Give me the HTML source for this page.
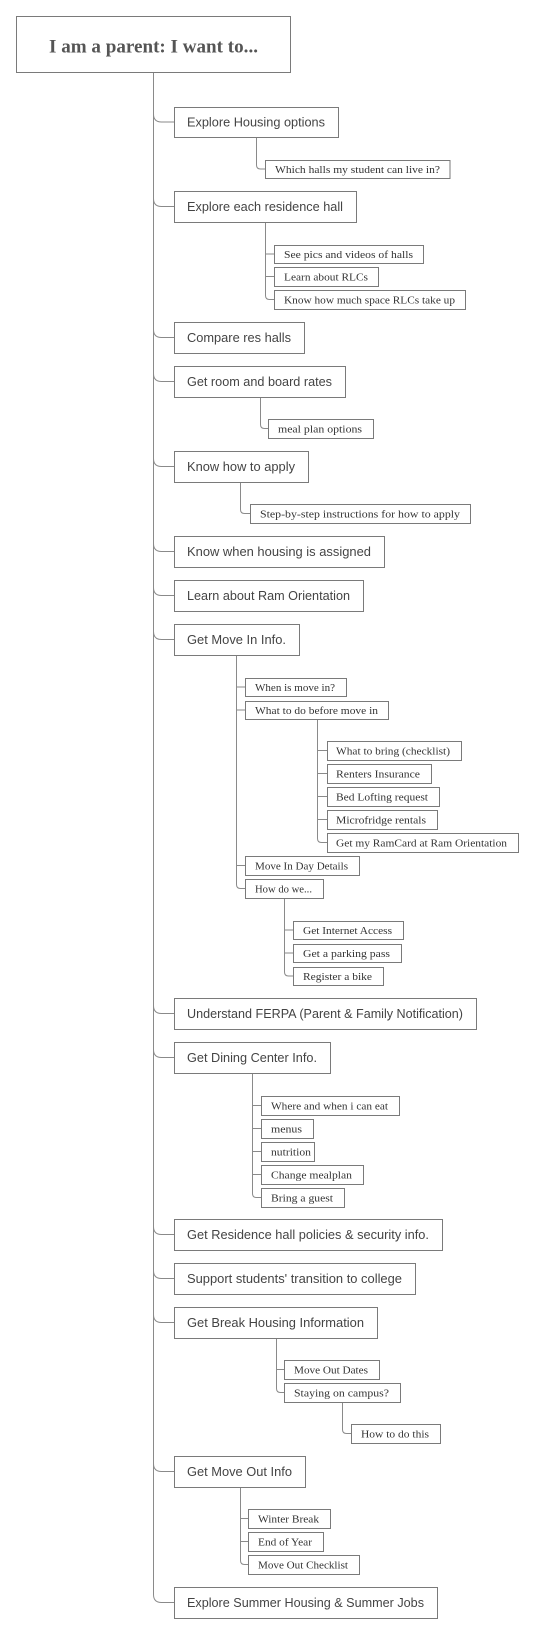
<!DOCTYPE html>
<html><head><meta charset="utf-8"><style>
html,body{margin:0;padding:0;background:#fff;}
svg{display:block;}
.b{fill:#fff;stroke:#7a7a7a;stroke-width:1;}
.l{fill:none;stroke:#8a8a8a;stroke-width:1;}
.t1{font-family:"Liberation Sans",sans-serif;font-size:13px;fill:#444;}
.t2{font-family:"Liberation Serif",serif;font-size:10.5px;fill:#333;}
.r{font-family:"Liberation Serif",serif;font-size:19px;font-weight:bold;fill:#555;}
</style></head><body>
<svg width="535" height="1635" viewBox="0 0 535 1635" xmlns="http://www.w3.org/2000/svg">
<path class="l" d="M153.5,72 V1594.5 Q153.5,1602.5 161.5,1602.5 H174"/>
<g class="l">
<path d="M153.5,114 Q153.5,122 161.5,122 H174"/>
<path d="M153.5,198.5 Q153.5,206.5 161.5,206.5 H174"/>
<path d="M153.5,329.5 Q153.5,337.5 161.5,337.5 H174"/>
<path d="M153.5,373.5 Q153.5,381.5 161.5,381.5 H174"/>
<path d="M153.5,458.5 Q153.5,466.5 161.5,466.5 H174"/>
<path d="M153.5,543.5 Q153.5,551.5 161.5,551.5 H174"/>
<path d="M153.5,587.5 Q153.5,595.5 161.5,595.5 H174"/>
<path d="M153.5,631.5 Q153.5,639.5 161.5,639.5 H174"/>
<path d="M153.5,1005.5 Q153.5,1013.5 161.5,1013.5 H174"/>
<path d="M153.5,1049.5 Q153.5,1057.5 161.5,1057.5 H174"/>
<path d="M153.5,1226.5 Q153.5,1234.5 161.5,1234.5 H174"/>
<path d="M153.5,1270.5 Q153.5,1278.5 161.5,1278.5 H174"/>
<path d="M153.5,1314.5 Q153.5,1322.5 161.5,1322.5 H174"/>
<path d="M153.5,1463.5 Q153.5,1471.5 161.5,1471.5 H174"/>
<path d="M256.5,137 V165 Q256.5,169 260.5,169 H265.5"/>
<path d="M265.5,222 V295.5 Q265.5,299.5 269.5,299.5 H274 M265.5,254 H274 M265.5,276.5 H274"/>
<path d="M260.5,397 V424.5 Q260.5,428.5 264.5,428.5 H268"/>
<path d="M240.5,482 V509.5 Q240.5,513.5 244.5,513.5 H250"/>
<path d="M236.5,655 V884.5 Q236.5,888.5 240.5,888.5 H245 M236.5,687 H245 M236.5,710 H245 M236.5,865.5 H245"/>
<path d="M317.5,719 V838.5 Q317.5,842.5 321.5,842.5 H327 M317.5,750.5 H327 M317.5,773.5 H327 M317.5,796.5 H327 M317.5,819.5 H327"/>
<path d="M284.5,898 V972 Q284.5,976 288.5,976 H293 M284.5,930 H293 M284.5,953 H293"/>
<path d="M252.5,1073 V1193.5 Q252.5,1197.5 256.5,1197.5 H261 M252.5,1105.5 H261 M252.5,1128.5 H261 M252.5,1151.5 H261 M252.5,1174.5 H261"/>
<path d="M276.5,1338 V1388.5 Q276.5,1392.5 280.5,1392.5 H284 M276.5,1369.5 H284"/>
<path d="M342.5,1402 V1429.5 Q342.5,1433.5 346.5,1433.5 H351"/>
<path d="M240.5,1487 V1560.5 Q240.5,1564.5 244.5,1564.5 H248 M240.5,1518.5 H248 M240.5,1541.5 H248"/>
</g>
<rect class="b" x="16.5" y="16.5" width="274" height="56"/>
<text class="r" x="153.5" y="52.5" text-anchor="middle" textLength="209" lengthAdjust="spacingAndGlyphs">I am a parent: I want to...</text>
<g>
<rect class="b" x="174.5" y="107.5" width="164" height="30"/><text class="t1" x="187" y="126.5" textLength="138" lengthAdjust="spacingAndGlyphs">Explore Housing options</text>
<rect class="b" x="174.5" y="191.5" width="182" height="31"/><text class="t1" x="187" y="211" textLength="156" lengthAdjust="spacingAndGlyphs">Explore each residence hall</text>
<rect class="b" x="174.5" y="322.5" width="130" height="31"/><text class="t1" x="187" y="342" textLength="104" lengthAdjust="spacingAndGlyphs">Compare res halls</text>
<rect class="b" x="174.5" y="366.5" width="171" height="31"/><text class="t1" x="187" y="386" textLength="145" lengthAdjust="spacingAndGlyphs">Get room and board rates</text>
<rect class="b" x="174.5" y="451.5" width="134" height="31"/><text class="t1" x="187" y="471" textLength="108" lengthAdjust="spacingAndGlyphs">Know how to apply</text>
<rect class="b" x="174.5" y="536.5" width="210" height="31"/><text class="t1" x="187" y="556" textLength="184" lengthAdjust="spacingAndGlyphs">Know when housing is assigned</text>
<rect class="b" x="174.5" y="580.5" width="189" height="31"/><text class="t1" x="187" y="600" textLength="163" lengthAdjust="spacingAndGlyphs">Learn about Ram Orientation</text>
<rect class="b" x="174.5" y="624.5" width="125" height="31"/><text class="t1" x="187" y="644" textLength="99" lengthAdjust="spacingAndGlyphs">Get Move In Info.</text>
<rect class="b" x="174.5" y="998.5" width="302" height="31"/><text class="t1" x="187" y="1018" textLength="276" lengthAdjust="spacingAndGlyphs">Understand FERPA (Parent &amp; Family Notification)</text>
<rect class="b" x="174.5" y="1042.5" width="156" height="31"/><text class="t1" x="187" y="1062" textLength="130" lengthAdjust="spacingAndGlyphs">Get Dining Center Info.</text>
<rect class="b" x="174.5" y="1219.5" width="268" height="31"/><text class="t1" x="187" y="1239" textLength="242" lengthAdjust="spacingAndGlyphs">Get Residence hall policies &amp; security info.</text>
<rect class="b" x="174.5" y="1263.5" width="241" height="31"/><text class="t1" x="187" y="1283" textLength="215" lengthAdjust="spacingAndGlyphs">Support students' transition to college</text>
<rect class="b" x="174.5" y="1307.5" width="203" height="31"/><text class="t1" x="187" y="1327" textLength="177" lengthAdjust="spacingAndGlyphs">Get Break Housing Information</text>
<rect class="b" x="174.5" y="1456.5" width="131" height="31"/><text class="t1" x="187" y="1476" textLength="105" lengthAdjust="spacingAndGlyphs">Get Move Out Info</text>
<rect class="b" x="174.5" y="1587.5" width="263" height="31"/><text class="t1" x="187" y="1607" textLength="237" lengthAdjust="spacingAndGlyphs">Explore Summer Housing &amp; Summer Jobs</text>
</g>
<g>
<rect class="b" x="265.5" y="160.5" width="184.5" height="18"/><text class="t2" x="275" y="173" textLength="165" lengthAdjust="spacingAndGlyphs">Which halls my student can live in?</text>
<rect class="b" x="274.5" y="245.5" width="149" height="18"/><text class="t2" x="284" y="258" textLength="129" lengthAdjust="spacingAndGlyphs">See pics and videos of halls</text>
<rect class="b" x="274.5" y="267.5" width="104" height="19"/><text class="t2" x="284" y="280.5" textLength="84" lengthAdjust="spacingAndGlyphs">Learn about RLCs</text>
<rect class="b" x="274.5" y="290.5" width="191" height="19"/><text class="t2" x="284" y="303.5" textLength="171" lengthAdjust="spacingAndGlyphs">Know how much space RLCs take up</text>
<rect class="b" x="268.5" y="419.5" width="105" height="19"/><text class="t2" x="278" y="432.5" textLength="84" lengthAdjust="spacingAndGlyphs">meal plan options</text>
<rect class="b" x="250.5" y="504.5" width="220" height="19"/><text class="t2" x="260" y="517.5" textLength="200" lengthAdjust="spacingAndGlyphs">Step-by-step instructions for how to apply</text>
<rect class="b" x="245.5" y="678.5" width="101" height="18"/><text class="t2" x="255" y="691" textLength="80" lengthAdjust="spacingAndGlyphs">When is move in?</text>
<rect class="b" x="245.5" y="701.5" width="143" height="18"/><text class="t2" x="255" y="714" textLength="123" lengthAdjust="spacingAndGlyphs">What to do before move in</text>
<rect class="b" x="327.5" y="741.5" width="134" height="19"/><text class="t2" x="336" y="754.5" textLength="114" lengthAdjust="spacingAndGlyphs">What to bring (checklist)</text>
<rect class="b" x="327.5" y="764.5" width="104" height="19"/><text class="t2" x="336" y="777.5" textLength="84" lengthAdjust="spacingAndGlyphs">Renters Insurance</text>
<rect class="b" x="327.5" y="787.5" width="112" height="19"/><text class="t2" x="336" y="800.5" textLength="92" lengthAdjust="spacingAndGlyphs">Bed Lofting request</text>
<rect class="b" x="327.5" y="810.5" width="110" height="19"/><text class="t2" x="336" y="823.5" textLength="90" lengthAdjust="spacingAndGlyphs">Microfridge rentals</text>
<rect class="b" x="327.5" y="833.5" width="191" height="19"/><text class="t2" x="336" y="846.5" textLength="171" lengthAdjust="spacingAndGlyphs">Get my RamCard at Ram Orientation</text>
<rect class="b" x="245.5" y="856.5" width="114" height="19"/><text class="t2" x="255" y="869.5" textLength="93" lengthAdjust="spacingAndGlyphs">Move In Day Details</text>
<rect class="b" x="245.5" y="879.5" width="78" height="19"/><text class="t2" x="255" y="892.5" textLength="57" lengthAdjust="spacingAndGlyphs">How do we...</text>
<rect class="b" x="293.5" y="921.5" width="110" height="18"/><text class="t2" x="303" y="934" textLength="89" lengthAdjust="spacingAndGlyphs">Get Internet Access</text>
<rect class="b" x="293.5" y="944.5" width="108" height="18"/><text class="t2" x="303" y="957" textLength="87" lengthAdjust="spacingAndGlyphs">Get a parking pass</text>
<rect class="b" x="293.5" y="967.5" width="90" height="18"/><text class="t2" x="303" y="980" textLength="69" lengthAdjust="spacingAndGlyphs">Register a bike</text>
<rect class="b" x="261.5" y="1096.5" width="138" height="19"/><text class="t2" x="271" y="1109.5" textLength="117" lengthAdjust="spacingAndGlyphs">Where and when i can eat</text>
<rect class="b" x="261.5" y="1119.5" width="52" height="19"/><text class="t2" x="271" y="1132.5" textLength="31" lengthAdjust="spacingAndGlyphs">menus</text>
<rect class="b" x="261.5" y="1142.5" width="53" height="19"/><text class="t2" x="271" y="1155.5" textLength="40" lengthAdjust="spacingAndGlyphs">nutrition</text>
<rect class="b" x="261.5" y="1165.5" width="102" height="19"/><text class="t2" x="271" y="1178.5" textLength="81" lengthAdjust="spacingAndGlyphs">Change mealplan</text>
<rect class="b" x="261.5" y="1188.5" width="83" height="19"/><text class="t2" x="271" y="1201.5" textLength="62" lengthAdjust="spacingAndGlyphs">Bring a guest</text>
<rect class="b" x="284.5" y="1360.5" width="95" height="19"/><text class="t2" x="294" y="1373.5" textLength="74" lengthAdjust="spacingAndGlyphs">Move Out Dates</text>
<rect class="b" x="284.5" y="1383.5" width="116" height="19"/><text class="t2" x="294" y="1396.5" textLength="95" lengthAdjust="spacingAndGlyphs">Staying on campus?</text>
<rect class="b" x="351.5" y="1424.5" width="89" height="19"/><text class="t2" x="361" y="1437.5" textLength="68" lengthAdjust="spacingAndGlyphs">How to do this</text>
<rect class="b" x="248.5" y="1509.5" width="82" height="19"/><text class="t2" x="258" y="1522.5" textLength="61" lengthAdjust="spacingAndGlyphs">Winter Break</text>
<rect class="b" x="248.5" y="1532.5" width="75" height="19"/><text class="t2" x="258" y="1545.5" textLength="54" lengthAdjust="spacingAndGlyphs">End of Year</text>
<rect class="b" x="248.5" y="1555.5" width="111" height="19"/><text class="t2" x="258" y="1568.5" textLength="90" lengthAdjust="spacingAndGlyphs">Move Out Checklist</text>
</g>
</svg>
</body></html>
